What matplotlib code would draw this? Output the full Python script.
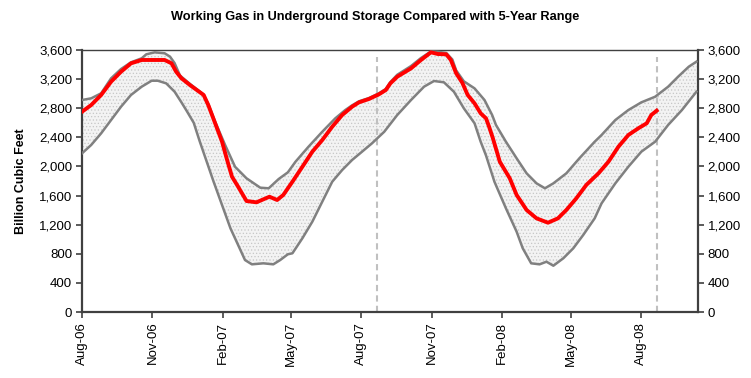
import numpy as np
import pandas as pd
import matplotlib
matplotlib.use("Agg")
import matplotlib.pyplot as plt
import matplotlib.dates as mdates
from matplotlib.ticker import FuncFormatter, MultipleLocator

plt.rcParams['font.family'] = ['Liberation Sans', 'DejaVu Sans']
plt.rcParams['hatch.linewidth'] = 0.5

# 5年区间上限
upper_dates = ['2006-08-01', '2006-08-13', '2006-08-26', '2006-09-08', '2006-09-21', '2006-10-04',
               '2006-10-18', '2006-10-24', '2006-11-04', '2006-11-17', '2006-11-24', '2006-11-30',
               '2006-12-07', '2006-12-20', '2007-01-06', '2007-01-13', '2007-01-22', '2007-02-04',
               '2007-02-17', '2007-03-04', '2007-03-22', '2007-04-02', '2007-04-15', '2007-04-27',
               '2007-05-07', '2007-05-24', '2007-06-11', '2007-06-28', '2007-07-11', '2007-07-20',
               '2007-07-29', '2007-08-11', '2007-08-24', '2007-09-02', '2007-09-08', '2007-09-17',
               '2007-10-05', '2007-10-18', '2007-10-31', '2007-11-09', '2007-11-20', '2007-11-28',
               '2007-12-03', '2007-12-13', '2007-12-27', '2008-01-09', '2008-01-19', '2008-01-24',
               '2008-02-06', '2008-02-20', '2008-03-04', '2008-03-17', '2008-03-28', '2008-04-08',
               '2008-04-25', '2008-05-12', '2008-06-01', '2008-06-10', '2008-06-28', '2008-07-15',
               '2008-08-01', '2008-08-19', '2008-09-05', '2008-09-18', '2008-10-02', '2008-10-12']
upper_vals = [2913, 2936, 3005, 3211, 3339, 3431, 3486, 3541, 3568, 3555, 3509, 3420,
              3250, 3135, 2995, 2860, 2615, 2295, 1996, 1837, 1708, 1700, 1827, 1919,
              2065, 2271, 2477, 2661, 2775, 2840, 2895, 2940, 3005, 3065, 3160, 3260,
              3380, 3490, 3580, 3575, 3560, 3470, 3320, 3170, 3073, 2913, 2707, 2570,
              2340, 2112, 1906, 1768, 1700, 1768, 1906, 2112, 2340, 2432, 2638, 2775,
              2881, 2958, 3096, 3233, 3371, 3440]

# 5年区间下限
lower_dates = ['2006-08-01', '2006-08-13', '2006-08-26', '2006-09-08', '2006-09-21', '2006-10-04',
               '2006-10-18', '2006-10-31', '2006-11-08', '2006-11-19', '2006-11-30', '2006-12-09',
               '2006-12-16', '2006-12-25', '2007-01-02', '2007-01-11', '2007-01-20', '2007-01-31',
               '2007-02-11', '2007-02-21', '2007-03-02', '2007-03-11', '2007-03-26', '2007-04-08',
               '2007-04-17', '2007-04-27', '2007-05-03', '2007-05-16', '2007-05-29', '2007-06-11',
               '2007-06-24', '2007-07-07', '2007-07-20', '2007-08-02', '2007-08-15', '2007-08-31',
               '2007-09-17', '2007-10-05', '2007-10-22', '2007-11-04', '2007-11-17', '2007-11-30',
               '2007-12-13', '2007-12-27', '2008-01-04', '2008-01-11', '2008-01-22', '2008-02-06',
               '2008-02-20', '2008-02-28', '2008-03-10', '2008-03-21', '2008-03-30', '2008-04-08',
               '2008-04-21', '2008-05-04', '2008-05-17', '2008-06-01', '2008-06-10', '2008-06-28',
               '2008-07-15', '2008-08-01', '2008-08-19', '2008-09-05', '2008-09-23', '2008-10-12']
lower_vals = [2180, 2295, 2455, 2638, 2821, 2982, 3096, 3178, 3178, 3142, 3027, 2880,
              2760, 2600, 2340, 2065, 1790, 1470, 1150, 921, 714, 655, 669, 655,
              714, 793, 807, 1013, 1241, 1516, 1790, 1951, 2089, 2203, 2318, 2477,
              2707, 2913, 3096, 3174, 3156, 3027, 2799, 2593, 2340, 2150, 1790, 1425,
              1103, 875, 669, 655, 691, 636, 738, 875, 1058, 1287, 1493, 1768,
              1996, 2203, 2340, 2570, 2775, 3027]

# 实际库存
stock_dates = ['2006-08-01', '2006-08-13', '2006-08-26', '2006-09-08', '2006-09-21', '2006-10-04',
               '2006-10-18', '2006-11-04', '2006-11-17', '2006-11-26', '2006-12-02', '2006-12-09',
               '2006-12-20', '2007-01-07', '2007-01-13', '2007-01-22', '2007-01-31', '2007-02-06',
               '2007-02-13', '2007-02-21', '2007-03-04', '2007-03-17', '2007-03-24', '2007-04-03',
               '2007-04-13', '2007-04-21', '2007-05-03', '2007-05-16', '2007-05-29', '2007-06-11',
               '2007-06-24', '2007-07-07', '2007-07-20', '2007-07-29', '2007-08-11', '2007-08-24',
               '2007-09-02', '2007-09-08', '2007-09-17', '2007-10-05', '2007-10-18', '2007-10-31',
               '2007-11-09', '2007-11-20', '2007-11-26', '2007-12-03', '2007-12-11', '2007-12-18',
               '2007-12-27', '2008-01-04', '2008-01-11', '2008-01-15', '2008-01-20', '2008-01-29',
               '2008-02-11', '2008-02-20', '2008-03-04', '2008-03-17', '2008-04-01', '2008-04-14',
               '2008-04-25', '2008-05-08', '2008-05-21', '2008-06-06', '2008-06-19', '2008-07-02',
               '2008-07-15', '2008-07-28', '2008-08-08', '2008-08-14', '2008-08-21']
stock_vals = [2752, 2844, 2982, 3165, 3302, 3417, 3463, 3463, 3463, 3417, 3302, 3211,
              3119, 2982, 2844, 2593, 2340, 2112, 1859, 1722, 1525, 1507, 1539, 1584,
              1539, 1608, 1790, 1996, 2203, 2363, 2546, 2707, 2821, 2881, 2927, 2991,
              3050, 3142, 3233, 3348, 3463, 3568, 3545, 3541, 3463, 3280, 3150, 2982,
              2867, 2730, 2661, 2546, 2386, 2065, 1837, 1608, 1402, 1287, 1227, 1287,
              1402, 1562, 1745, 1906, 2065, 2271, 2432, 2524, 2593, 2707, 2766]

# 当前周标记线
marker_dates = ['2007-08-22', '2008-08-21']

up_d = pd.to_datetime(upper_dates)
lo_d = pd.to_datetime(lower_dates)
st_d = pd.to_datetime(stock_dates)

fig = plt.figure(figsize=(7.51, 3.78), dpi=100)
ax = fig.add_axes([0.1092, 0.1746, 0.8202, 0.6931])

# 区间填充（上限 + 反向下限）
poly_x = np.concatenate([mdates.date2num(up_d), mdates.date2num(lo_d)[::-1]])
poly_y = np.concatenate([upper_vals, lower_vals[::-1]])
ax.fill(poly_x, poly_y, facecolor='#f3f3f3', edgecolor='#c6c6c6', hatch='.....', linewidth=0, zorder=1)

for d in marker_dates:
    ax.plot([pd.Timestamp(d)] * 2, [0, 3500], color='#c0c0c0', linestyle=(0, (3, 2)), linewidth=1.5, zorder=2)

ax.plot(up_d, upper_vals, color='#808080', linewidth=1.8, zorder=3)
ax.plot(lo_d, lower_vals, color='#808080', linewidth=1.8, zorder=3)
ax.plot(st_d, stock_vals, color='#ff0000', linewidth=2.8, zorder=4)

ax.set_xlim(pd.Timestamp('2006-08-01'), pd.Timestamp('2008-10-14'))
ax.set_ylim(0, 3600)
ax.yaxis.set_major_locator(MultipleLocator(400))
ax.yaxis.set_major_formatter(FuncFormatter(lambda v, p: f'{v:,.0f}'))
ax.xaxis.set_major_locator(mdates.MonthLocator(bymonth=[2, 5, 8, 11]))
ax.xaxis.set_major_formatter(mdates.DateFormatter('%b-%y'))

ax.tick_params(axis='y', which='both', direction='out', length=4, width=1.2, color='#404040',
               labelsize=9.5, right=True, labelright=True, pad=3)
ax.tick_params(axis='x', direction='out', length=4, width=1.2, color='#404040',
               labelsize=9.5, labelrotation=90, pad=3)
for lab in ax.get_xticklabels():
    lab.set_verticalalignment('top')

for s in ax.spines.values():
    s.set_color('#404040')
    s.set_linewidth(1.0)
ax.spines['left'].set_linewidth(1.6)
ax.spines['right'].set_linewidth(1.6)
ax.spines['bottom'].set_linewidth(1.6)

ax.set_ylabel('Billion Cubic Feet', fontsize=9, fontweight='bold', labelpad=9)
fig.text(0.5, 0.955, 'Working Gas in Underground Storage Compared with 5-Year Range',
         ha='center', va='center', fontsize=9.2, fontweight='bold')

fig.savefig('out.png', dpi=100, facecolor='white')
